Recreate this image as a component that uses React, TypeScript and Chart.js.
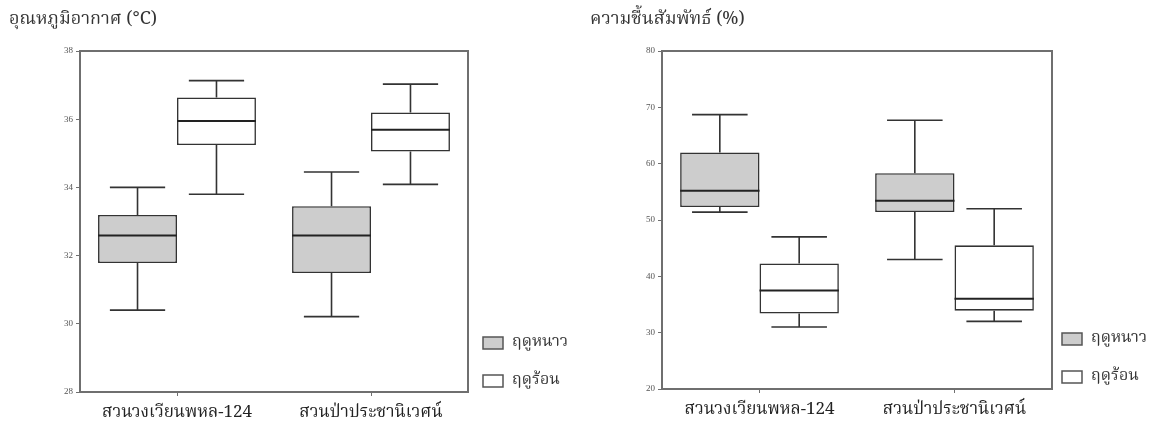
import { useEffect, useRef } from "react";
import { Chart, registerables } from "chart.js";
Chart.register(...registerables);

// ---------- data ----------
const sites = ["สวนวงเวียนพหล-124", "สวนป่าประชานิเวศน์"];
const seasons = ["ฤดูหนาว", "ฤดูร้อน"];
const tempTitle = "อุณหภูมิอากาศ (°C)";
const rhTitle = "ความชื้นสัมพัทธ์ (%)";
// [min, Q1, median, Q3, max] per site
const tempWinter = [
  [30.4, 31.78, 32.59, 33.19, 34.0],
  [30.21, 31.49, 32.59, 33.45, 34.45],
];
const tempSummer = [
  [33.8, 35.24, 35.95, 36.64, 37.13],
  [34.09, 35.05, 35.69, 36.2, 37.03],
];
const rhWinter = [
  [51.4, 52.3, 55.2, 62.0, 68.7],
  [43.0, 51.4, 53.4, 58.3, 67.7],
];
const rhSummer = [
  [31.0, 33.4, 37.5, 42.3, 47.0],
  [32.0, 33.9, 36.0, 45.5, 52.0],
];
const tempAxis = { min: 28, max: 38, step: 2 };
const rhAxis = { min: 20, max: 80, step: 10 };

const seasonFill = ["#cdcdcd", "#ffffff"];
const INK = "#333333";
const FRAME = "#6f6f6f";
const THAI = "'Noto Serif Thai', 'Noto Sans Thai', 'Noto Sans Thai UI', Loma, Garuda, 'Tlwg Typo', 'Noto Sans', sans-serif";

const boxPlugin = {
  id: "boxWhisker",
  afterDatasetsDraw(chart: any) {
    const ctx = chart.ctx;
    const y = chart.scales.y;
    chart.data.datasets.forEach((ds: any, di: number) => {
      const meta = chart.getDatasetMeta(di);
      meta.data.forEach((el: any, i: number) => {
        const s = ds.stats[i];
        const x = el.x;
        const w = el.width;
        const cap = w * 0.35;
        const yMin = y.getPixelForValue(s[0]);
        const yQ1 = y.getPixelForValue(s[1]);
        const yMed = y.getPixelForValue(s[2]);
        const yQ3 = y.getPixelForValue(s[3]);
        const yMax = y.getPixelForValue(s[4]);
        ctx.save();
        ctx.strokeStyle = INK;
        ctx.lineWidth = 1.6;
        ctx.beginPath();
        ctx.moveTo(x, yQ3);
        ctx.lineTo(x, yMax);
        ctx.moveTo(x - cap, yMax);
        ctx.lineTo(x + cap, yMax);
        ctx.moveTo(x, yQ1);
        ctx.lineTo(x, yMin);
        ctx.moveTo(x - cap, yMin);
        ctx.lineTo(x + cap, yMin);
        ctx.stroke();
        ctx.lineWidth = 2;
        ctx.strokeStyle = "#222";
        ctx.beginPath();
        ctx.moveTo(x - w / 2, yMed);
        ctx.lineTo(x + w / 2, yMed);
        ctx.stroke();
        ctx.restore();
      });
    });
  },
  afterDraw(chart: any) {
    const { ctx, chartArea: a } = chart;
    ctx.save();
    ctx.strokeStyle = FRAME;
    ctx.lineWidth = 2;
    ctx.strokeRect(a.left, a.top, a.right - a.left, a.bottom - a.top);
    // legend
    const opts = chart.options.plugins.boxLegend;
    chart.data.datasets.forEach((ds: any, di: number) => {
      const cy = a.bottom - opts.offsets[di];
      const bx = a.right + opts.gap;
      ctx.fillStyle = ds.backgroundColor;
      ctx.fillRect(bx, cy - 6, 20, 12);
      ctx.strokeStyle = "#555";
      ctx.lineWidth = 1.5;
      ctx.strokeRect(bx, cy - 6, 20, 12);
      ctx.fillStyle = "#333";
      ctx.font = "16px " + THAI;
      ctx.textBaseline = "middle";
      ctx.textAlign = "left";
      ctx.fillText(ds.label, bx + 29, cy);
    });
    ctx.restore();
  },
};

function BoxChart(props: {
  winter: number[][];
  summer: number[][];
  axis: { min: number; max: number; step: number };
  yWidth: number;
  xHeight: number;
  width: number;
  legendGap: number;
  legendOffsets: number[];
}) {
  const ref = useRef<HTMLCanvasElement>(null);
  useEffect(() => {
    const series = [props.winter, props.summer];
    const chart = new Chart(ref.current!, {
      type: "bar",
      data: {
        labels: sites,
        datasets: series.map((st, k) => ({
          label: seasons[k],
          data: st.map((s) => [s[1], s[3]]),
          stats: st,
          backgroundColor: seasonFill[k],
          borderColor: INK,
          borderWidth: 1.6,
          borderSkipped: false,
          categoryPercentage: 0.814,
          barPercentage: 1,
        })) as any,
      },
      options: {
        responsive: false,
        animation: false,
        events: [],
        layout: { padding: { top: 51, right: 112, left: 0, bottom: 0 } },
        plugins: {
          legend: { display: false },
          tooltip: { enabled: false },
          boxLegend: { gap: props.legendGap, offsets: props.legendOffsets },
        } as any,
        scales: {
          x: {
            offset: true,
            grid: { display: true, drawOnChartArea: false, offset: false, tickLength: 4, color: FRAME },
            border: { display: false },
            ticks: { color: "#222", font: { family: THAI, size: 17 }, padding: 8 },
            afterFit: (s: any) => {
              s.height = props.xHeight;
            },
          },
          y: {
            min: props.axis.min,
            max: props.axis.max,
            grid: { display: true, drawOnChartArea: false, tickLength: 4, color: FRAME },
            border: { display: false },
            ticks: {
              stepSize: props.axis.step,
              color: "#555",
              font: { family: "'Liberation Serif', serif", size: 9 },
              padding: 3,
            },
            afterFit: (s: any) => {
              s.width = props.yWidth;
            },
          },
        },
      },
      plugins: [boxPlugin],
    });
    return () => chart.destroy();
  }, []);
  return <canvas ref={ref} width={props.width} height={426} style={{ width: props.width, height: 426, display: "block" }} />;
}

const titleStyle: any = {
  position: "absolute",
  top: 5,
  fontFamily: THAI,
  fontSize: 18,
  color: "#333",
  whiteSpace: "nowrap",
};

export default function App() {
  return (
    <div style={{ position: "absolute", left: 0, top: 0, width: 1164, height: 426, background: "#fff", overflow: "hidden" }}>
      <div style={{ position: "absolute", left: 0, top: 0 }}>
        <BoxChart
          winter={tempWinter}
          summer={tempSummer}
          axis={tempAxis}
          yWidth={80}
          xHeight={34}
          width={580}
          legendGap={15}
          legendOffsets={[49, 11]}
        />
      </div>
      <div style={{ position: "absolute", left: 580, top: 0 }}>
        <BoxChart
          winter={rhWinter}
          summer={rhSummer}
          axis={rhAxis}
          yWidth={82}
          xHeight={37}
          width={584}
          legendGap={10}
          legendOffsets={[50, 12]}
        />
      </div>
      <div style={{ ...titleStyle, left: 9 }}>{tempTitle}</div>
      <div style={{ ...titleStyle, left: 590 }}>{rhTitle}</div>
    </div>
  );
}
